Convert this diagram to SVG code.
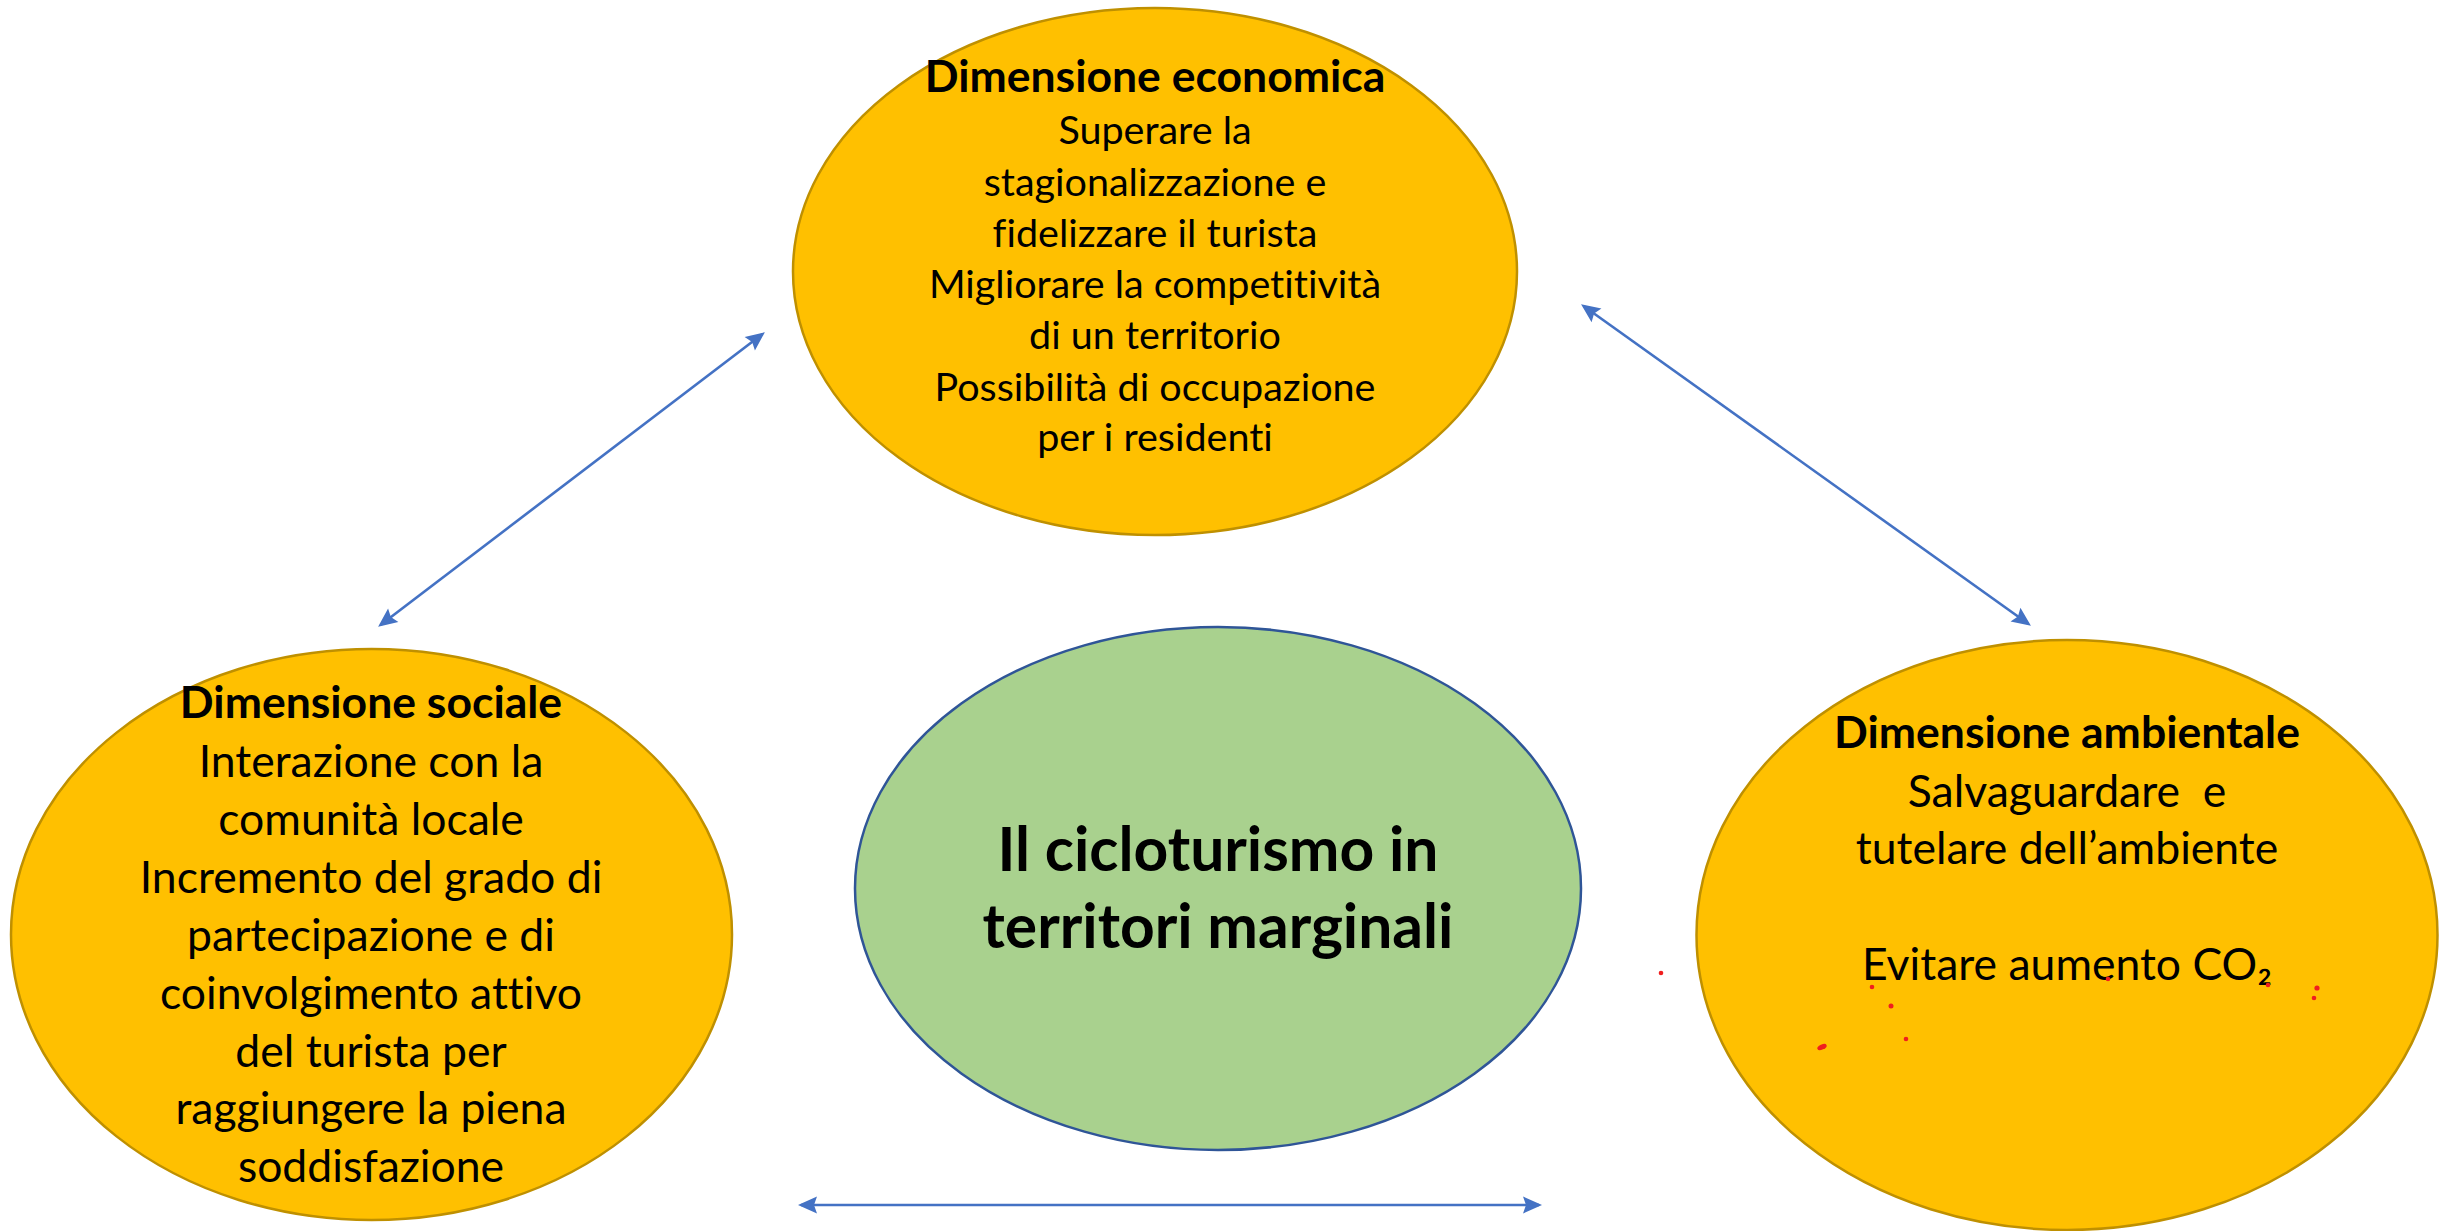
<svg xmlns="http://www.w3.org/2000/svg" width="2447" height="1231" viewBox="0 0 2447 1231">
<style>
.gold{fill:#FFC000;stroke:#BF9000;stroke-width:2.5}
.green{fill:#A9D18E;stroke:#2F5597;stroke-width:2.5}
text{font-family:Lato,"Noto Sans","Liberation Sans",sans-serif;fill:#000;text-anchor:middle;font-variant-ligatures:none}
.t{font-weight:bold;font-size:44.5px}
.r1{font-size:39.5px}
.r2{font-size:44.5px}
.big{font-weight:bold;font-size:60.5px}
.conn{stroke:#4472C4;stroke-width:2.6;fill:none;marker-start:url(#ah);marker-end:url(#ah)}
.dot{fill:#F01E1E}
</style>
<defs>
<marker id="ah" markerUnits="userSpaceOnUse" markerWidth="22" markerHeight="22" viewBox="0 0 22 22" refX="17" refY="11" orient="auto-start-reverse">
<path d="M1,2.5 L20,11 L1,19.5 L4,11 Z" fill="#4472C4"/>
</marker>
</defs>
<g id="connectors">
<line class="conn" x1="380.5" y1="625" x2="762.5" y2="334"/>
<line class="conn" x1="1583.5" y1="306" x2="2028.5" y2="624"/>
<line class="conn" x1="801" y1="1205" x2="1539" y2="1205"/>
</g>
<g id="economica">
<ellipse class="gold" cx="1155" cy="271.5" rx="362" ry="263.5"/>
<text class="t" x="1155" y="92">Dimensione economica</text>
<text class="r1" x="1155" y="144">Superare la</text>
<text class="r1" x="1155" y="196">stagionalizzazione e</text>
<text class="r1" x="1155" y="247">fidelizzare il turista</text>
<text class="r1" x="1155" y="298">Migliorare la competitività</text>
<text class="r1" x="1155" y="349">di un territorio</text>
<text class="r1" x="1155" y="401">Possibilità di occupazione</text>
<text class="r1" x="1155" y="451">per i residenti</text>
</g>
<g id="sociale">
<ellipse class="gold" cx="371.5" cy="934.5" rx="360.5" ry="285.5"/>
<text class="t" x="371" y="718">Dimensione sociale</text>
<text class="r2" x="371" y="777">Interazione con la</text>
<text class="r2" x="371" y="835">comunità locale</text>
<text class="r2" x="371" y="893">Incremento del grado di</text>
<text class="r2" x="371" y="951">partecipazione e di</text>
<text class="r2" x="371" y="1009">coinvolgimento attivo</text>
<text class="r2" x="371" y="1067">del turista per</text>
<text class="r2" x="371" y="1124">raggiungere la piena</text>
<text class="r2" x="371" y="1182">soddisfazione</text>
</g>
<g id="centro">
<ellipse class="green" cx="1218" cy="888.5" rx="363" ry="261.5"/>
<text class="big" x="1218" y="871">Il cicloturismo in</text>
<text class="big" x="1218" y="948">territori marginali</text>
</g>
<g id="ambientale">
<ellipse class="gold" cx="2067" cy="935" rx="370.5" ry="295"/>
<text class="t" x="2067" y="748">Dimensione ambientale</text>
<text class="r2" x="2067" y="807" style="white-space:pre">Salvaguardare  e</text>
<text class="r2" x="2067" y="864">tutelare dell’ambiente</text>
<text class="r2" x="2067" y="980">Evitare aumento CO₂</text>
</g>
<g id="dots">
<circle class="dot" cx="1661" cy="973" r="2.3"/>
<circle class="dot" cx="1872" cy="987" r="2.3"/>
<circle class="dot" cx="1891" cy="1006" r="2.5"/>
<circle class="dot" cx="1906" cy="1039" r="2.3"/>
<ellipse class="dot" cx="1822" cy="1047" rx="5" ry="2.6" transform="rotate(-25 1822 1047)"/>
<circle class="dot" cx="2108" cy="979" r="2.3"/>
<circle class="dot" cx="2268" cy="985" r="2.3"/>
<circle class="dot" cx="2317" cy="988" r="2.6"/>
<circle class="dot" cx="2314" cy="998" r="2.3"/>
</g>
</svg>
